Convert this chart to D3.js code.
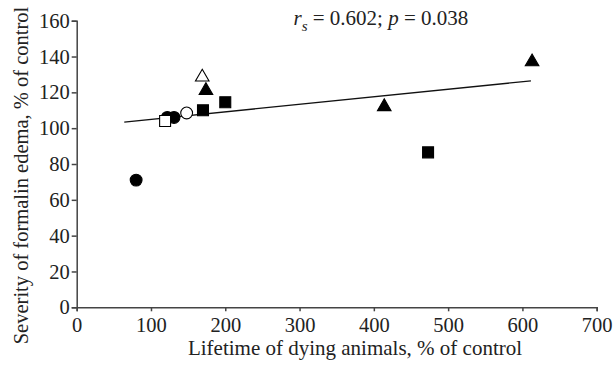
<!DOCTYPE html>
<html><head><meta charset="utf-8">
<script src="https://cdn.jsdelivr.net/npm/d3@7"></script>
<style>body{margin:0;background:#fff}svg{display:block}text{font-family:"Liberation Serif","Times New Roman",serif;fill:#222}</style>
</head><body><svg id="c" width="615" height="368"></svg>
<script>
const lifetime = [80, 122, 131, 119, 148, 170, 174, 169, 200, 414, 473, 613];
const severity = [71, 106, 106, 104, 108.5, 110, 121, 128.5, 114.5, 112, 86.5, 137];
const shapes = ["circle","circle","circle","square","circle","square","triangle","triangle","square","triangle","square","triangle"];
const filled = [true,true,true,false,false,true,true,false,true,true,true,true];
const trendX = [64, 611.5];
const trendY = [103.4, 126.4];
const xTicks = [0,100,200,300,400,500,600,700];
const yTicks = [0,20,40,60,80,100,120,140,160];

const svg = d3.select("#c");
const x = d3.scaleLinear().domain([0,700]).range([76.7,596.7]);
const y = d3.scaleLinear().domain([0,160]).range([307.3,20.7]);

const xa = svg.append("g").attr("transform","translate(0,307.3)")
  .call(d3.axisBottom(x).tickValues(xTicks).tickSizeOuter(0).tickSize(4).tickPadding(6));
const ya = svg.append("g").attr("transform","translate(76.7,0)")
  .call(d3.axisLeft(y).tickValues(yTicks).tickSizeOuter(0).tickSize(5).tickPadding(2));
[xa,ya].forEach(a=>{
  a.attr("font-size",null).attr("font-family",null);
  a.selectAll("path,line").attr("stroke","#444").attr("stroke-width",1.5);
  a.selectAll("text").style("font-family","Liberation Serif, serif").style("font-size","20.5px").attr("fill","#222");
});

svg.append("line").attr("x1",x(trendX[0])).attr("y1",y(trendY[0]))
  .attr("x2",x(trendX[1])).attr("y2",y(trendY[1])).attr("stroke","#111").attr("stroke-width",1.3);

const sym = {circle:d3.symbolCircle, square:d3.symbolSquare, triangle:d3.symbolTriangle};
const sizes = {circle:110, square:120, triangle:80};
lifetime.forEach((v,i)=>{
  svg.append("path")
    .attr("d", d3.symbol().type(sym[shapes[i]]).size(sizes[shapes[i]])())
    .attr("transform",`translate(${x(v)},${y(severity[i])})`)
    .attr("fill", filled[i] ? "#000" : "#fff")
    .attr("stroke","#000").attr("stroke-width", 1.1);
});

const t = svg.append("text").attr("x",293.5).attr("y",25).style("font-size","21px");
t.append("tspan").style("font-style","italic").text("r");
t.append("tspan").attr("dy",6).style("font-size","15px").style("font-style","italic").text("s");
t.append("tspan").attr("dy",-6).text(" = 0.602; ");
t.append("tspan").style("font-style","italic").text("p");
t.append("tspan").text(" = 0.038");

svg.append("text").attr("x",355).attr("y",355).attr("text-anchor","middle").style("font-size","21px")
  .text("Lifetime of dying animals, % of control");
svg.append("text").attr("transform","translate(28,175.5) rotate(-90)").attr("text-anchor","middle").style("font-size","20.5px")
  .text("Severity of formalin edema, % of control");
</script></body></html>
